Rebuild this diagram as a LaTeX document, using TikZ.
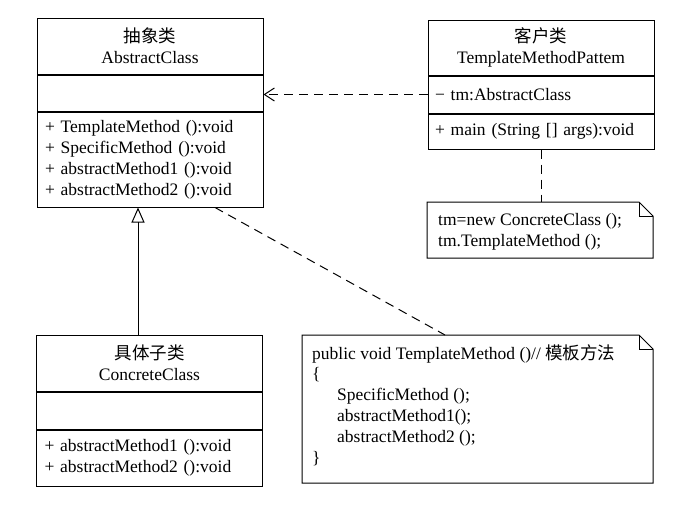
\documentclass[tikz,border=0pt]{standalone}
\usepackage{fontspec}
\setmainfont{Liberation Serif}
\newfontfamily\cjk{Noto Sans CJK SC}
\usetikzlibrary{arrows.meta, calc}

\newcommand{\zh}[1]{{\cjk #1}}
\newcommand{\notefold}{14}

\tikzset{
	part/.style={draw, line width=1pt, inner sep=0pt, minimum width=226pt,
		font=\fontsize{17.5}{21}\selectfont},
	head/.style={part, align=center},
	body/.style={part, anchor=north, inner xsep=8pt, text width=210pt, align=left},
	note/.style={inner xsep=11pt, inner ysep=0pt, align=left, anchor=north west,
		font=\fontsize{17.5}{20.8}\selectfont},
	noteline/.style={line width=1pt, line join=miter},
	dashline/.style={line width=1pt, dash pattern=on 9pt off 6pt},
	depend/.style={dashline, -{Straight Barb[length=10pt, width=13pt, line width=1pt]}},
	inherit/.style={line width=1pt, -{Triangle[open, length=15pt, width=13pt, line width=1pt]}}
}

\begin{document}
\begin{tikzpicture}[x=1pt, y=-1pt]
	\useasboundingbox (0,0) rectangle (690,514);

	% abstract class
	\node [head, minimum height=56pt] (absHead) at (150,46) {\zh{抽象类}\\AbstractClass};
	\node [body, minimum height=36pt] (absAttr) at (absHead.south) {};
	\node [body, minimum height=95pt] (absOps) at (absAttr.south)
		{+ TemplateMethod ():void\\+ SpecificMethod ():void\\+ abstractMethod1 ():void\\+ abstractMethod2 ():void};

	% client class
	\node [head, minimum height=55pt] (cliHead) at (541,47.5) {\zh{客户类}\\TemplateMethodPattem};
	\node [body, minimum height=37pt, inner xsep=7pt, text width=212pt] (cliAttr) at (cliHead.south) {− tm:AbstractClass};
	\node [body, minimum height=35pt, inner xsep=7pt, text width=212pt] (cliOps) at (cliAttr.south) {+ main (String [] args):void};

	% concrete class
	\node [head, minimum height=56pt] (conHead) at (149.5,363) {\zh{具体子类}\\ConcreteClass};
	\node [body, minimum height=37pt] (conAttr) at (conHead.south) {};
	\node [body, minimum height=56pt] (conOps) at (conAttr.south)
		{+ abstractMethod1 ():void\\+ abstractMethod2 ():void};

	% notes
	\coordinate (n1a) at (427,202);
	\coordinate (n1b) at (653,258);
	\node [note] (note1) at ($(n1a)+(0,11)$) {tm=new ConcreteClass ();\\tm.TemplateMethod ();};
	\draw [noteline] (n1a) -- ($(n1b|-n1a)+(-\notefold,0)$) -- ($(n1b|-n1a)+(0,\notefold)$)
		-- (n1b) -- (n1a|-n1b) -- cycle;
	\draw [noteline] ($(n1b|-n1a)+(-\notefold,0)$) |- ($(n1b|-n1a)+(0,\notefold)$);

	\coordinate (n2a) at (302,335);
	\coordinate (n2b) at (653,483);
	\node [note, inner xsep=10pt] (note2) at ($(n2a)+(0,9)$)
		{public void TemplateMethod ()// \zh{模板方法}\\
		\{\\
		\hspace*{25pt}SpecificMethod ();\\
		\hspace*{25pt}abstractMethod1();\\
		\hspace*{25pt}abstractMethod2 ();\\
		\}};
	\draw [noteline] (n2a) -- ($(n2b|-n2a)+(-\notefold,0)$) -- ($(n2b|-n2a)+(0,\notefold)$)
		-- (n2b) -- (n2a|-n2b) -- cycle;
	\draw [noteline] ($(n2b|-n2a)+(-\notefold,0)$) |- ($(n2b|-n2a)+(0,\notefold)$);

	% connectors
	\draw [depend] (cliAttr.west) -- (cliAttr.west -| absAttr.east);
	\draw [dashline] (cliOps.south) -- (cliOps.south |- n1a);
	\draw [inherit] ([xshift=-11.5pt]conHead.north) -- ([xshift=-11.5pt]conHead.north |- absOps.south);
	\draw [dashline] ([xshift=65pt]absOps.south) -- ($(n2a)+(143,0)$);
\end{tikzpicture}
\end{document}
